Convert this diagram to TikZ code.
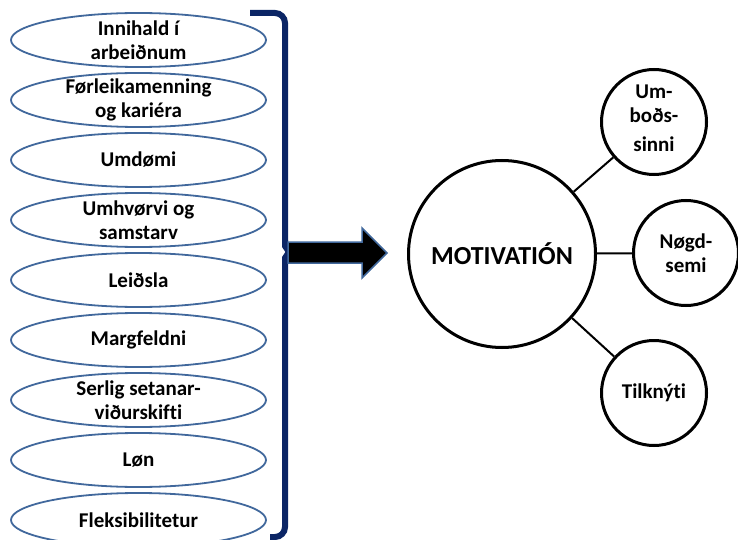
\documentclass[tikz,border=0pt]{standalone}
\usepackage{fontspec}
\setmainfont{Carlito}[Ligatures=NoCommon]
\usetikzlibrary{shapes.geometric}
\definecolor{ellblue}{HTML}{41689C}
\definecolor{navyb}{HTML}{0B2565}
\begin{document}
\begin{tikzpicture}[x=1pt,y=-1pt,
  item/.style={ellipse, draw=ellblue, line width=1.8pt, minimum width=255pt, minimum height=54pt, inner sep=0pt},
  itemtext/.style={font=\bfseries\fontsize{21}{24}\selectfont, align=center, inner sep=0pt},
  bigtext/.style={font=\bfseries\fontsize{26}{29}\selectfont, inner sep=0pt},
  bigc/.style={circle, draw=black, line width=3pt, minimum size=187pt, inner sep=0pt},
  smallc/.style={circle, draw=black, line width=3pt, minimum size=105pt, inner sep=0pt},
  link/.style={line width=2pt, draw=black}]
\useasboundingbox (0,0) rectangle (738,540);

% left list of factors
\node[item, label={[itemtext]center:{Innihald í\\arbeiðnum}}] (e1) at (138.5,40) {};
\node[item, label={[itemtext]center:{Førleikamenning\\og kariéra}}] (e2) at (138.5,100) {};
\node[item, label={[itemtext]center:{Umdømi}}] (e3) at (138.5,160) {};
\node[item, label={[itemtext]center:{Umhvørvi og\\samstarv}}] (e4) at (138.5,220) {};
\node[item, label={[itemtext]center:{Leiðsla}}] (e5) at (138.5,280) {};
\node[item, label={[itemtext]center:{Margfeldni}}] (e6) at (138.5,340) {};
\node[item, label={[itemtext]center:{Serlig setanar-\\viðurskifti}}] (e7) at (138.5,400) {};
\node[item, label={[itemtext]center:{Løn}}] (e8) at (138.5,460) {};
\node[item, label={[itemtext]center:{Fleksibilitetur}}] (e9) at (138.5,520) {};

% bracket
\draw[navyb, line width=6pt, rounded corners=10pt]
  (250,13) -- (285,13) -- (285,246);
\draw[navyb, line width=6pt] (285,240) -- (285,246) -- (289,252) -- (285,258) -- (285,264);
\draw[navyb, line width=6pt, rounded corners=10pt]
  (285,258) -- (285,537) -- (270,537);

% arrow
\filldraw[fill=black, draw=ellblue, line width=1.5pt]
  (288,242) -- (362,242) -- (362,228) -- (387,253) -- (362,278) -- (362,263) -- (288,263) -- cycle;

% motivation circles
\node[bigc, label={[bigtext]center:{MOTIVATIÓN}}] (M) at (502,254) {};
\node[smallc, label={[itemtext, yshift=4pt]center:{Um-\\boðs-\\[5pt]sinni}}] (A) at (654,122) {};
\node[smallc, label={[itemtext]center:{Nøgd-\\semi}}] (B) at (686,253) {};
\node[smallc, label={[itemtext]center:{Tilknýti}}] (C) at (654,393) {};

\draw[link] (M) -- (A);
\draw[link] (M) -- (B);
\draw[link] (M) -- (C);
\end{tikzpicture}
\end{document}
